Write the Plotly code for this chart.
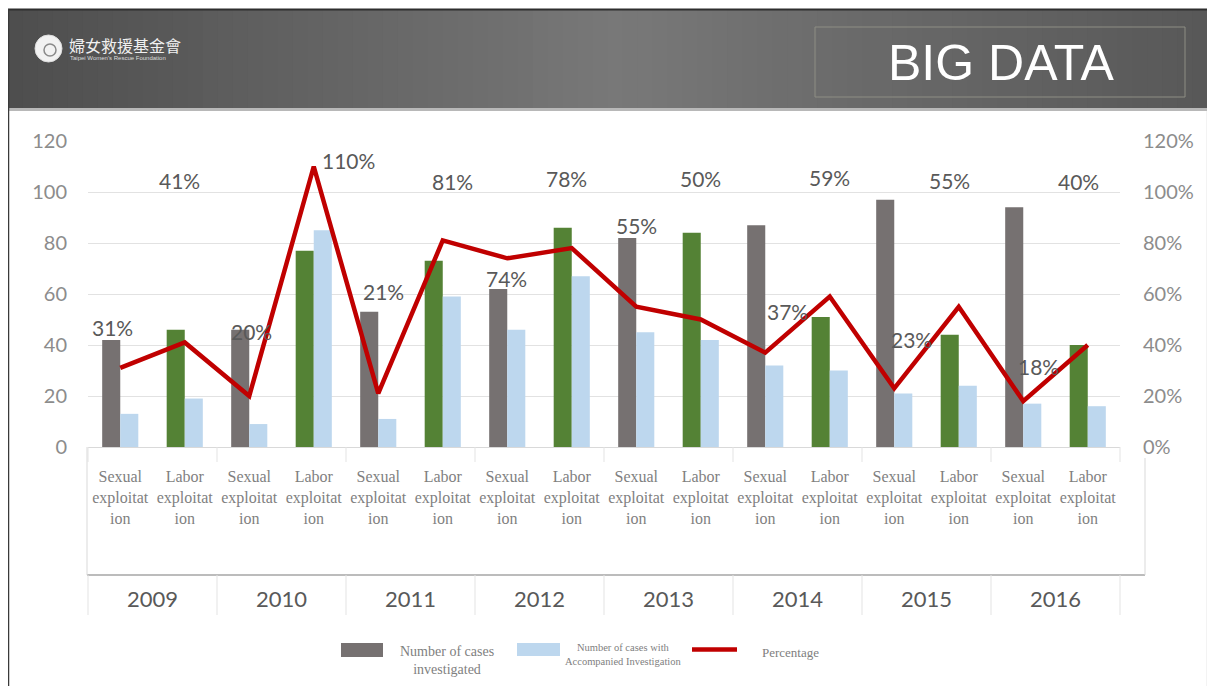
import plotly.graph_objects as go

# ---------------- data ----------------
years = ["2009", "2010", "2011", "2012", "2013", "2014", "2015", "2016"]
types = ["Sexual exploitation", "Labor exploitation"]
type_ticktext = ["Sexual<br>exploitat<br>ion", "Labor<br>exploitat<br>ion"]
investigated = [42, 46, 46, 77, 53, 73, 62, 86, 82, 84, 87, 51, 97, 44, 94, 40]
accompanied = [13, 19, 9, 85, 11, 59, 46, 67, 45, 42, 32, 30, 21, 24, 17, 16]
percentage = [0.31, 0.41, 0.20, 1.10, 0.21, 0.81, 0.74, 0.78,
              0.55, 0.50, 0.37, 0.59, 0.23, 0.55, 0.18, 0.40]
left_ticks = [0, 20, 40, 60, 80, 100, 120]

# ---------------- layout helpers ----------------
# the page has an 8px body margin, so the figure is placed at (8, 8) on the page
OFF = 8
W, H = 1215 - OFF, 686 - OFF
L, R, T, B = 88, 1120, 141, 447  # plot area in page pixels


def px(x):
    return (x - L) / (R - L)


def py(y):
    return (B - y) / (B - T)


categories = [f"{y} {t}" for y in years for t in types]
ticktext = [type_ticktext[j] for _ in years for j in range(len(types))]

bar_dark_colors = ["#767171" if t == types[0] else "#548235" for _ in years for t in types]

# label placement (layout only)
label_y = [46.7, 104.7, 45.2, 112.5, 60.9, 104, 66.2, 105.4,
           86.7, 105.4, 53, 105.5, 42, 104.7, 31.5, 104]
label_dx = [-8, -5, 2, 35, 5, 10, -1, -5, 0, 0, 22, 0, 17, -9, 15, -9]

fig = go.Figure()

fig.add_trace(go.Bar(
    x=categories, y=investigated, name="Number of cases investigated",
    marker=dict(color=bar_dark_colors, line=dict(width=0)),
    showlegend=False, hoverinfo="x+y",
))
fig.add_trace(go.Bar(
    x=categories, y=accompanied, name="Number of cases with Accompanied Investigation",
    marker=dict(color="#BDD7EE", line=dict(width=0)),
    showlegend=False, hoverinfo="x+y",
))
fig.add_trace(go.Scatter(
    x=categories, y=percentage, yaxis="y2", mode="lines", name="Percentage",
    line=dict(color="#C00000", width=4.5), showlegend=False,
))

shapes = []
annotations = []

# ---------- header banner (gradient via strips) ----------
stops = [(8, (0x4d, 0x4d, 0x4d)), (300, (0x62, 0x62, 0x62)), (620, (0x78, 0x78, 0x78)),
         (820, (0x6c, 0x6c, 0x6c)), (1207, (0x58, 0x58, 0x58))]


def col_at(x):
    for (x0, c0), (x1, c1) in zip(stops[:-1], stops[1:]):
        if x0 <= x <= x1:
            f = (x - x0) / (x1 - x0)
            c = [round(a + (b - a) * f) for a, b in zip(c0, c1)]
            return "rgb(%d,%d,%d)" % tuple(c)
    return "rgb(88,88,88)"


N = 80
x_start, x_end = 8, 1207
step = (x_end - x_start) / N
for i in range(N):
    xa = x_start + i * step
    xb = xa + step + 1
    shapes.append(dict(type="rect", xref="paper", yref="paper",
                       x0=px(xa), x1=px(min(xb, x_end)), y0=py(108), y1=py(10),
                       fillcolor=col_at(xa + step / 2), line=dict(width=0), layer="below"))
# banner top dark edge & bottom soft edge
shapes.append(dict(type="line", xref="paper", yref="paper", x0=px(8), x1=px(1207),
                   y0=py(9.5), y1=py(9.5), line=dict(color="#2e2e2e", width=2)))
shapes.append(dict(type="rect", xref="paper", yref="paper", x0=px(8), x1=px(1207),
                   y0=py(111), y1=py(108), fillcolor="#b8b8b8", line=dict(width=0)))
# outer frame lines
shapes.append(dict(type="line", xref="paper", yref="paper", x0=px(8.5), x1=px(8.5),
                   y0=py(9), y1=py(686), line=dict(color="#3a3a3a", width=1.5)))
shapes.append(dict(type="line", xref="paper", yref="paper", x0=px(1207), x1=px(1207),
                   y0=py(111), y1=py(686), line=dict(color="#e6e6e6", width=1)))

# BIG DATA box
shapes.append(dict(type="rect", xref="paper", yref="paper", x0=px(815), x1=px(1185),
                   y0=py(97), y1=py(27), line=dict(color="#8e8e84", width=1),
                   fillcolor="rgba(0,0,0,0)"))
annotations.append(dict(text="BIG DATA", xref="paper", yref="paper", x=px(1001), y=py(63),
                        showarrow=False, xanchor="center", yanchor="middle",
                        font=dict(family="Liberation Sans, Arial", size=50, color="#ffffff")))

# logo
shapes.append(dict(type="circle", xref="paper", yref="paper", x0=px(35), x1=px(62),
                   y0=py(62), y1=py(35), fillcolor="#f2f2f2", line=dict(color="#dcdcdc", width=1)))
shapes.append(dict(type="circle", xref="paper", yref="paper", x0=px(44), x1=px(56),
                   y0=py(56), y1=py(44), fillcolor="rgba(0,0,0,0)", line=dict(color="#8a8a8a", width=1.5)))
annotations.append(dict(text="婦女救援基金會", xref="paper", yref="paper", x=px(67), y=py(45),
                        showarrow=False, xanchor="left", yanchor="middle",
                        font=dict(family="Noto Sans CJK TC", size=16, color="#f0f0f0")))
annotations.append(dict(text="Taipei Women's Rescue Foundation", xref="paper", yref="paper",
                        x=px(68), y=py(58), showarrow=False, xanchor="left", yanchor="middle",
                        font=dict(family="Liberation Sans", size=6, color="#dddddd")))

# ---------- category axis decorations ----------
n_cat = len(categories)
line_y = 575
shapes.append(dict(type="line", xref="paper", yref="paper", x0=px(87), x1=px(1145),
                   y0=py(line_y), y1=py(line_y), line=dict(color="#a6a6a6", width=1.5)))
shapes.append(dict(type="line", xref="paper", yref="paper", x0=px(87), x1=px(87),
                   y0=py(B), y1=py(line_y), line=dict(color="#d9d9d9", width=1)))
shapes.append(dict(type="line", xref="paper", yref="paper", x0=px(1145), x1=px(1145),
                   y0=py(458), y1=py(line_y), line=dict(color="#d9d9d9", width=1)))
for k in range(len(years) + 1):
    xk = (2 * k) / n_cat
    shapes.append(dict(type="line", xref="paper", yref="paper", x0=xk, x1=xk,
                       y0=py(line_y), y1=py(615), line=dict(color="#e3e3e3", width=1)))
    shapes.append(dict(type="line", xref="paper", yref="paper", x0=xk, x1=xk,
                       y0=py(B), y1=py(462), line=dict(color="#e3e3e3", width=1)))
for i, yr in enumerate(years):
    annotations.append(dict(text=yr, xref="x", yref="paper", x=2 * i + 0.5, y=py(598),
                            showarrow=False, xanchor="center", yanchor="middle",
                            font=dict(family="Lato", size=22, color="#595959")))

# ---------- percentage labels ----------
for i, c in enumerate(categories):
    annotations.append(dict(text=f"{round(percentage[i] * 100)}%", xref="x", yref="y",
                            x=c, y=label_y[i], xshift=label_dx[i], showarrow=False,
                            xanchor="center", yanchor="middle",
                            font=dict(family="Lato", size=21, color="#595959")))

# ---------- manual legend ----------
shapes.append(dict(type="rect", xref="paper", yref="paper", x0=px(341), x1=px(383),
                   y0=py(657), y1=py(643), fillcolor="#767171", line=dict(width=0)))
shapes.append(dict(type="rect", xref="paper", yref="paper", x0=px(517), x1=px(560),
                   y0=py(656), y1=py(643), fillcolor="#BDD7EE", line=dict(width=0)))
shapes.append(dict(type="line", xref="paper", yref="paper", x0=px(692), x1=px(737),
                   y0=py(649.5), y1=py(649.5), line=dict(color="#C00000", width=4.5)))
annotations.append(dict(text="Number of cases<br>investigated", xref="paper", yref="paper",
                        x=px(447), y=py(660), showarrow=False, xanchor="center", yanchor="middle",
                        font=dict(family="Liberation Serif", size=14, color="#808080")))
annotations.append(dict(text="Number of cases with<br>Accompanied Investigation", xref="paper",
                        yref="paper", x=px(623), y=py(654), showarrow=False, xanchor="center",
                        yanchor="middle",
                        font=dict(family="Liberation Serif", size=10.5, color="#808080")))
annotations.append(dict(text="Percentage", xref="paper", yref="paper", x=px(790), y=py(652),
                        showarrow=False, xanchor="center", yanchor="middle",
                        font=dict(family="Liberation Serif", size=13, color="#808080")))

fig.update_layout(
    width=W, height=H,
    margin=dict(l=L - OFF, r=W - (R - OFF), t=T - OFF, b=H - (B - OFF), pad=0),
    paper_bgcolor="#ffffff", plot_bgcolor="#ffffff",
    barmode="group", bargap=0.44, bargroupgap=0,
    showlegend=False,
    xaxis=dict(type="category", categoryorder="array", categoryarray=categories,
               tickvals=categories, ticktext=ticktext, ticks="", showgrid=False,
               showline=True, linecolor="#d9d9d9", linewidth=1, zeroline=False,
               tickfont=dict(family="Liberation Serif", size=16, color="#7f7f7f"),
               ticklabelstandoff=15, range=[-0.5, n_cat - 0.5], tickangle=0),
    yaxis=dict(range=[0, 120], tickvals=left_ticks, showgrid=True, gridcolor="#e2e2e2",
               gridwidth=1, zeroline=False, showline=False, ticks="",
               tickfont=dict(family="Lato", size=20, color="#8c8c8c"),
               ticklabelstandoff=20),
    yaxis2=dict(overlaying="y", side="right", range=[0, 1.2], dtick=0.2, tick0=0,
                tickformat=".0%", showgrid=False, zeroline=False, showline=False, ticks="",
                tickfont=dict(family="Lato", size=20, color="#8c8c8c"),
                ticklabelstandoff=22),
    shapes=shapes,
    annotations=annotations,
)

fig.write_html("out.html")
